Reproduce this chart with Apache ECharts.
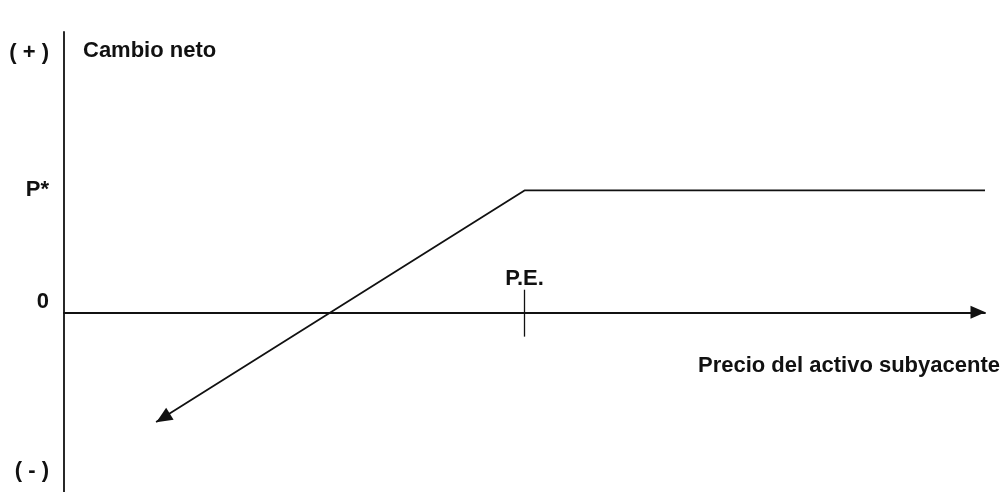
<!DOCTYPE html>
<html>
<head>
<meta charset="utf-8">
<script src="https://cdn.jsdelivr.net/npm/echarts@6/dist/echarts.min.js"></script>
<style>
  html, body { margin: 0; padding: 0; background: #fff; }
  #main { width: 1005px; height: 492px; }
</style>
</head>
<body>
<div id="main"></div>
<script>
// payoff of the position (arbitrary units)
const payoffX = [10, 50, 100]
const payoffY = [-18, 20, 20]
// P.E. mark on the price axis
const peX = 50
const peLabel = 'P.E.'
// y axis labels
const yTickValues = [42.5, 20, 0, -26]
const yTickLabels = ['( + )', 'P*', '0', '( - )']
const yName = 'Cambio neto'
const xName = 'Precio del activo subyacente'

const ink = '#111'
const font = 'Liberation Sans, Arial, sans-serif'
const fs = 22

const chart = echarts.init(document.getElementById('main'))

const seriesData = payoffX.map((x, i) => {
  if (i === 0) {
    // arrow head at the loss end of the line
    return {
      value: [x, payoffY[i]],
      symbol: 'triangle',
      symbolSize: [14, 16],
      symbolRotate: 122,
      symbolOffset: [7, -4],
    }
  }
  return { value: [x, payoffY[i]], symbol: 'none' }
})

const option = {
  animation: false,
  backgroundColor: '#fff',
  grid: { left: 64, right: 20, top: 32, bottom: 0, containLabel: false },
  xAxis: {
    type: 'value',
    min: 0,
    max: 100,
    name: xName,
    nameLocation: 'end',
    nameGap: 15,
    nameTextStyle: {
      color: ink,
      fontFamily: font,
      fontWeight: 'bold',
      fontSize: fs,
      align: 'right',
      verticalAlign: 'top',
      padding: [43, 0, 0, 0],
    },
    axisLine: {
      show: true,
      onZero: true,
      symbol: ['none', 'triangle'],
      symbolSize: [13, 15],
      symbolOffset: [0, -7],
      lineStyle: { color: ink, width: 1.8 },
    },
    axisTick: { show: false },
    axisLabel: { show: false },
    splitLine: { show: false },
  },
  yAxis: {
    type: 'value',
    min: -29.5,
    max: 46,
    name: yName,
    nameLocation: 'end',
    nameGap: -19,
    nameTextStyle: {
      color: ink,
      fontFamily: font,
      fontWeight: 'bold',
      fontSize: fs,
      align: 'left',
      verticalAlign: 'middle',
      padding: [0, 0, 0, 19],
    },
    axisLine: {
      show: true,
      onZero: false,
      lineStyle: { color: ink, width: 1.8 },
    },
    axisTick: { show: false },
    splitLine: { show: false },
    axisLabel: {
      show: true,
      customValues: yTickValues,
      margin: 15,
      color: ink,
      fontFamily: font,
      fontWeight: 'bold',
      fontSize: fs,
      formatter: (v) => {
        const i = yTickValues.indexOf(v)
        const txt = i >= 0 ? yTickLabels[i] : ''
        // the zero label sits just above the price axis
        return v === 0 ? '{z|' + txt + '}' : txt
      },
      rich: {
        z: {
          color: ink,
          fontFamily: font,
          fontWeight: 'bold',
          fontSize: fs,
          padding: [0, 0, 20, 0],
        },
      },
    },
  },
  series: [
    {
      type: 'line',
      data: seriesData,
      symbol: 'none',
      showSymbol: true,
      lineStyle: { color: ink, width: 1.8 },
      itemStyle: { color: ink },
      emphasis: { disabled: true },
      markLine: {
        silent: true,
        symbol: ['none', 'none'],
        lineStyle: { color: ink, width: 1.3, type: 'solid' },
        label: {
          show: true,
          position: 'end',
          distance: 0,
          formatter: peLabel,
          color: ink,
          fontFamily: font,
          fontWeight: 'bold',
          fontSize: fs,
        },
        data: [[{ coord: [peX, -4] }, { coord: [peX, 3.7] }]],
      },
    },
  ],
}
chart.setOption(option)
</script>
</body>
</html>
